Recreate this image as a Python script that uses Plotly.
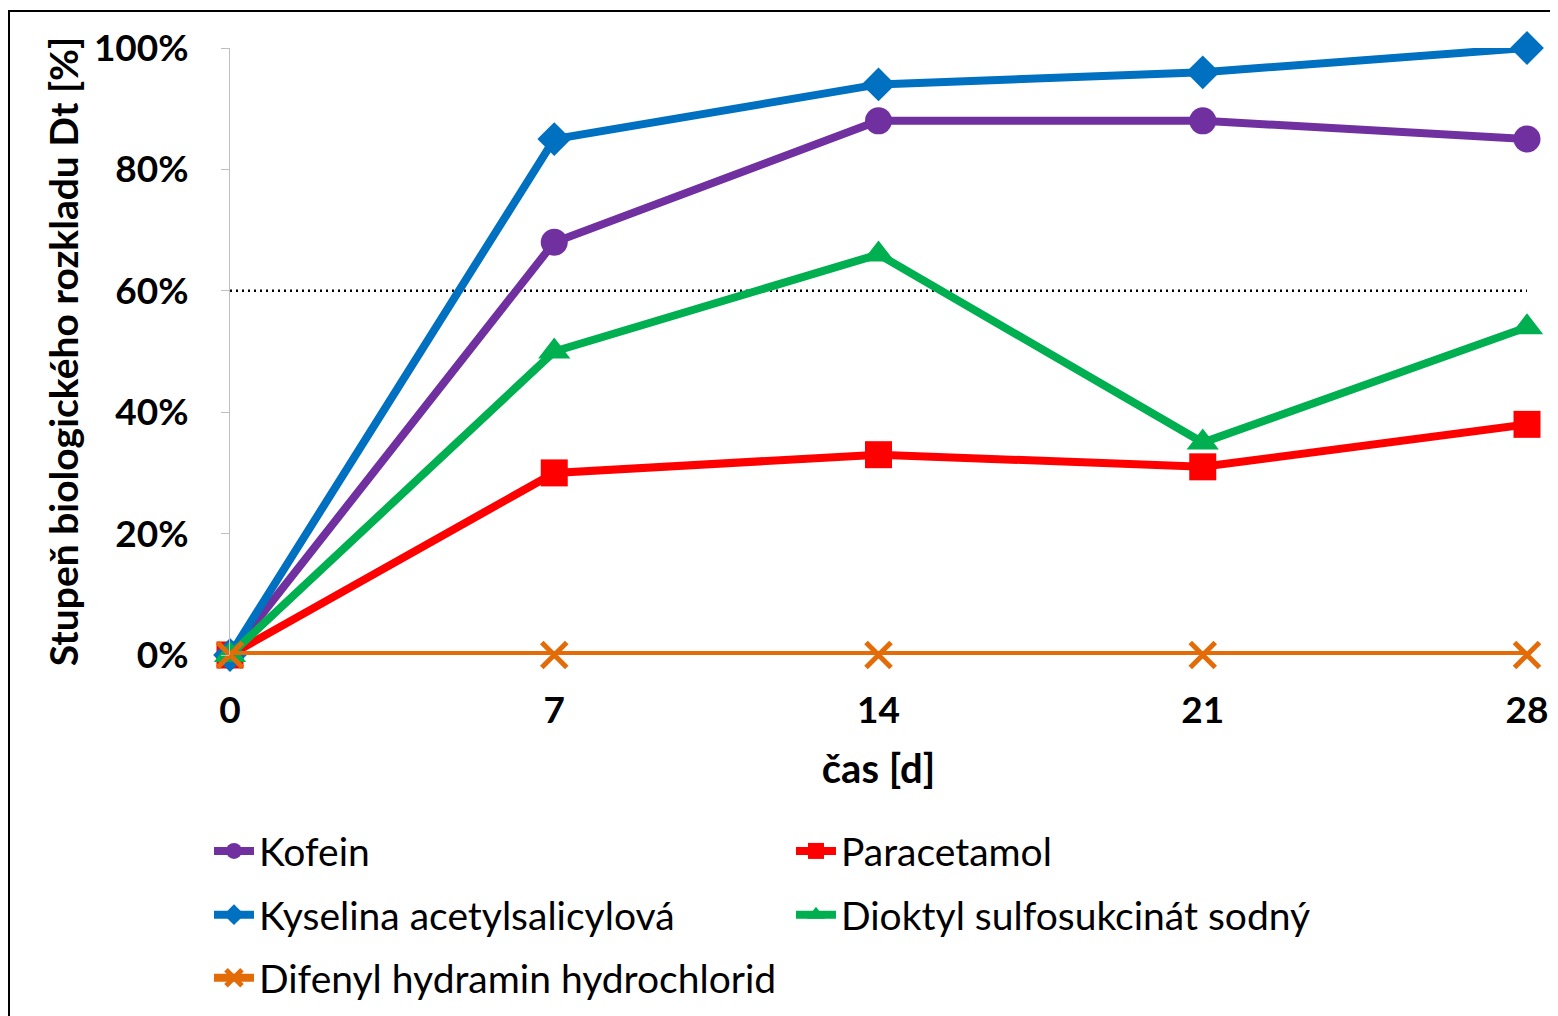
import plotly.graph_objects as go

days = [0, 7, 14, 21, 28]
kofein = [0.0, 0.68, 0.88, 0.88, 0.85]
paracetamol = [0.0, 0.30, 0.33, 0.31, 0.38]
kyselina = [0.0, 0.85, 0.94, 0.96, 1.00]
dioktyl = [0.0, 0.50, 0.66, 0.35, 0.54]
difenyl = [0.0, 0.0, 0.0, 0.0, 0.0]
threshold = 0.60
y_ticks = [0, 0.2, 0.4, 0.6, 0.8, 1.0]

# name, values, colour, symbol, size, marker line width, legend row
series = [
    ("Kofein", kofein, "#7030A0", "circle", 27, None, "legend"),
    ("Paracetamol", paracetamol, "#FF0000", "square", 27, None, "legend"),
    ("Kyselina acetylsalicylová", kyselina, "#0070C0", "diamond", 26, None, "legend2"),
    ("Dioktyl sulfosukcinát sodný", dioktyl, "#00B050", "triangle-up", 28, None, "legend2"),
    ("Difenyl hydramin hydrochlorid", difenyl, "#E36C09", "x-thin", 25, 5, "legend3"),
]

fig = go.Figure()
fig.add_trace(go.Scatter(
    x=[days[0], days[-1]], y=[threshold, threshold], mode="lines",
    line=dict(color="black", width=2.5, dash="2px,4px"), showlegend=False,
    hoverinfo="skip",
))
for name, vals, color, sym, size, lw, leg in series:
    marker = dict(symbol=sym, size=size, color=color)
    if lw:
        marker["line"] = dict(color=color, width=lw)
    fig.add_trace(go.Scatter(
        x=days, y=vals, name=name, mode="lines+markers", legend=leg,
        line=dict(color=color, width=8), marker=marker, cliponaxis=False,
    ))

font_family = "Lato, Carlito, Calibri, sans-serif"

leg_common = dict(
    orientation="h", xanchor="left", yanchor="middle",
    entrywidth=527, entrywidthmode="pixels",
    font=dict(size=39, family=font_family, color="black"),
    itemwidth=40, traceorder="normal", bgcolor="rgba(0,0,0,0)",
)

fig.update_layout(
    width=1558, height=1016,
    margin=dict(l=222, r=39, t=40, b=369),
    plot_bgcolor="white", paper_bgcolor="white",
    font=dict(family=font_family, color="black", size=37),
    showlegend=True,
    legend=dict(x=-0.0162, y=-0.323, **leg_common),
    legend2=dict(x=-0.0162, y=-0.428, **leg_common),
    legend3=dict(x=-0.0162, y=-0.532, **leg_common),
    shapes=[dict(type="rect", xref="paper", yref="paper",
                 x0=-0.1704, x1=1.1, y0=-1.0, y1=1.061,
                 line=dict(color="black", width=2), layer="below")],
)
fig.update_xaxes(
    range=[0, 28], tickvals=days, ticktext=[str(d) for d in days],
    showline=False, showgrid=False, zeroline=False, ticks="",
    tickfont=dict(size=37, family=font_family, weight="bold"),
    ticklabelstandoff=30,
    title=dict(text="<b>čas [d]</b>", font=dict(size=40), standoff=24),
)
fig.update_yaxes(
    range=[0, 1], tickvals=y_ticks, tickformat=".0%",
    showline=True, linecolor="#BFBFBF", linewidth=1,
    ticks="outside", ticklen=8, tickcolor="#BFBFBF",
    showgrid=False, zeroline=False,
    tickfont=dict(size=37, family=font_family, weight="bold"),
    ticklabelstandoff=25,
    title=dict(text="<b>Stupeň biologického rozkladu Dt [%]</b>", font=dict(size=39), standoff=3),
)

fig.write_html("out.html")
